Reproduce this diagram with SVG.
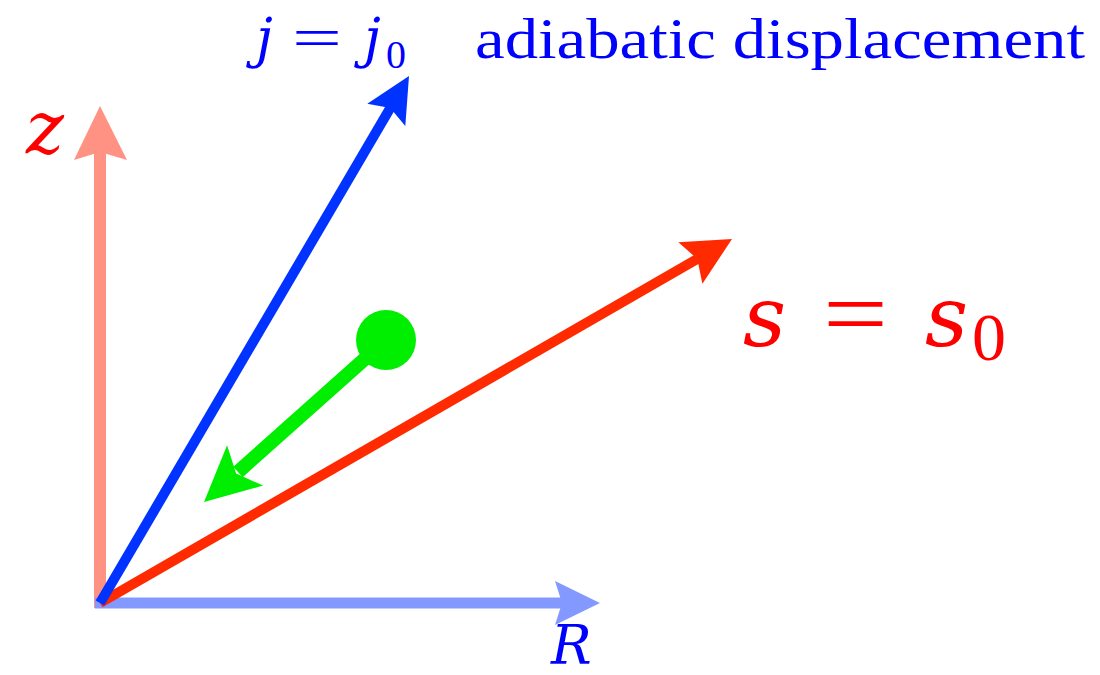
<svg xmlns="http://www.w3.org/2000/svg" width="1100" height="675" viewBox="0 0 1100 675">
<style>
text{font-family:"Times New Roman","Liberation Serif",serif}
text.it{font-family:"DejaVu Serif",serif;font-style:italic}
.blue{fill:#0000FF}
.red{fill:#FF0000}
.shaft{fill:none;stroke-linecap:butt}
</style>
<rect width="1100" height="675" fill="#FFFFFF"/>
<g id="connectors">
  <g id="axis-z">
    <line class="shaft" x1="100" y1="608" x2="100" y2="150" stroke="#FF9282" stroke-width="12"/>
    <polygon points="100,106 127,160 100,152 74,160" fill="#FF9282"/>
  </g>
  <g id="axis-R">
    <line class="shaft" x1="95" y1="603" x2="565" y2="603" stroke="#8399FF" stroke-width="11"/>
    <polygon points="600,603 555,625 562,603 555,581" fill="#8399FF"/>
  </g>
  <g id="arrow-s">
    <line class="shaft" x1="100" y1="603" x2="699" y2="258" stroke="#FF2A00" stroke-width="10"/>
    <polygon points="732,239 702.4,283.8 697.3,259 678.4,242.2" fill="#FF2A00"/>
  </g>
  <g id="arrow-j">
    <line class="shaft" x1="100" y1="603" x2="392" y2="105" stroke="#0033FF" stroke-width="10"/>
    <polygon points="409,76 405.3,125.9 390.3,107.9 367.3,103.7" fill="#0033FF"/>
  </g>
  <g id="arrow-displacement">
    <line class="shaft" x1="386" y1="340" x2="238" y2="472" stroke="#00EE00" stroke-width="14"/>
    <polygon points="204,502 227.1,445.2 236.1,473.4 263.1,485.6" fill="#00EE00"/>
  </g>
</g>
<g id="node-point">
  <circle cx="386" cy="340" r="30" fill="#00EE00"/>
</g>
<g id="label-z">
  <text class="it red" x="26" y="153" font-size="72">z</text>
</g>
<g id="label-R">
  <text class="it blue" x="551" y="664" font-size="54">R</text>
</g>
<g id="label-j">
  <text class="it blue" x="256" y="57" font-size="54">j</text>
  <text class="blue" x="292" y="57" font-size="56" textLength="50" lengthAdjust="spacingAndGlyphs">=</text>
  <text class="it blue" x="364" y="57" font-size="54">j</text>
  <text class="blue" x="386" y="68" font-size="40">0</text>
</g>
<g id="label-adiabatic">
  <text class="blue" x="475" y="58" font-size="56" textLength="610" lengthAdjust="spacingAndGlyphs">adiabatic displacement</text>
</g>
<g id="label-s">
  <text class="it red" x="743" y="346" font-size="84">s</text>
  <text class="red" x="823" y="346" font-size="98" textLength="65" lengthAdjust="spacingAndGlyphs">=</text>
  <text class="it red" x="925" y="346" font-size="84">s</text>
  <text class="red" x="972" y="360" font-size="68">0</text>
</g>
</svg>
